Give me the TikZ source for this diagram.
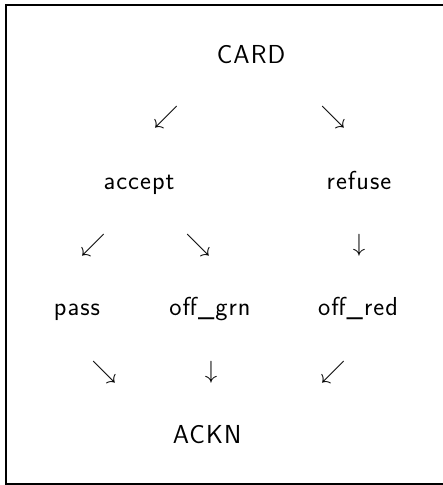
\documentclass[tikz,border=0pt]{standalone}
\usepackage{fontspec}
\newfontfamily\lblfont{lmsans17-regular.otf}[LetterSpace=4]
\begin{document}
\begin{tikzpicture}[x=1pt,y=-1pt,
  lbl/.style={font=\lblfont\fontsize{26}{30}\selectfont, anchor=base, inner sep=0pt},
  arr/.style={font=\fontsize{27}{30}\selectfont, inner sep=0pt}]
\useasboundingbox (0,0) rectangle (443,485);
\draw[line width=2pt, line join=miter] (443,5) -- (6,5) -- (6,484) -- (443,484);
% labels
\node[lbl] (card) at (251,63) {CARD};
\node[lbl] (accept) at (139,189) {accept};
\node[lbl] (refuse) at (359,189) {refuse};
\node[lbl] (pass) at (77,315) {pass};
\node[lbl] (offgrn) at (210,315) {off\_grn};
\node[lbl] (offred) at (358,315) {off\_red};
\node[lbl] (ackn) at (207,443) {ACKN};
% arrows
\node[arr] (a1) at (166,117) {$\swarrow$};
\node[arr] (a2) at (333,117) {$\searrow$};
\node[arr] (a3) at (93,245) {$\swarrow$};
\node[arr] (a4) at (198,245) {$\searrow$};
\node[arr] (a5) at (359,245) {$\downarrow$};
\node[arr] (a6) at (104,372) {$\searrow$};
\node[arr] (a7) at (211,372) {$\downarrow$};
\node[arr] (a8) at (333,372) {$\swarrow$};
\end{tikzpicture}
\end{document}
